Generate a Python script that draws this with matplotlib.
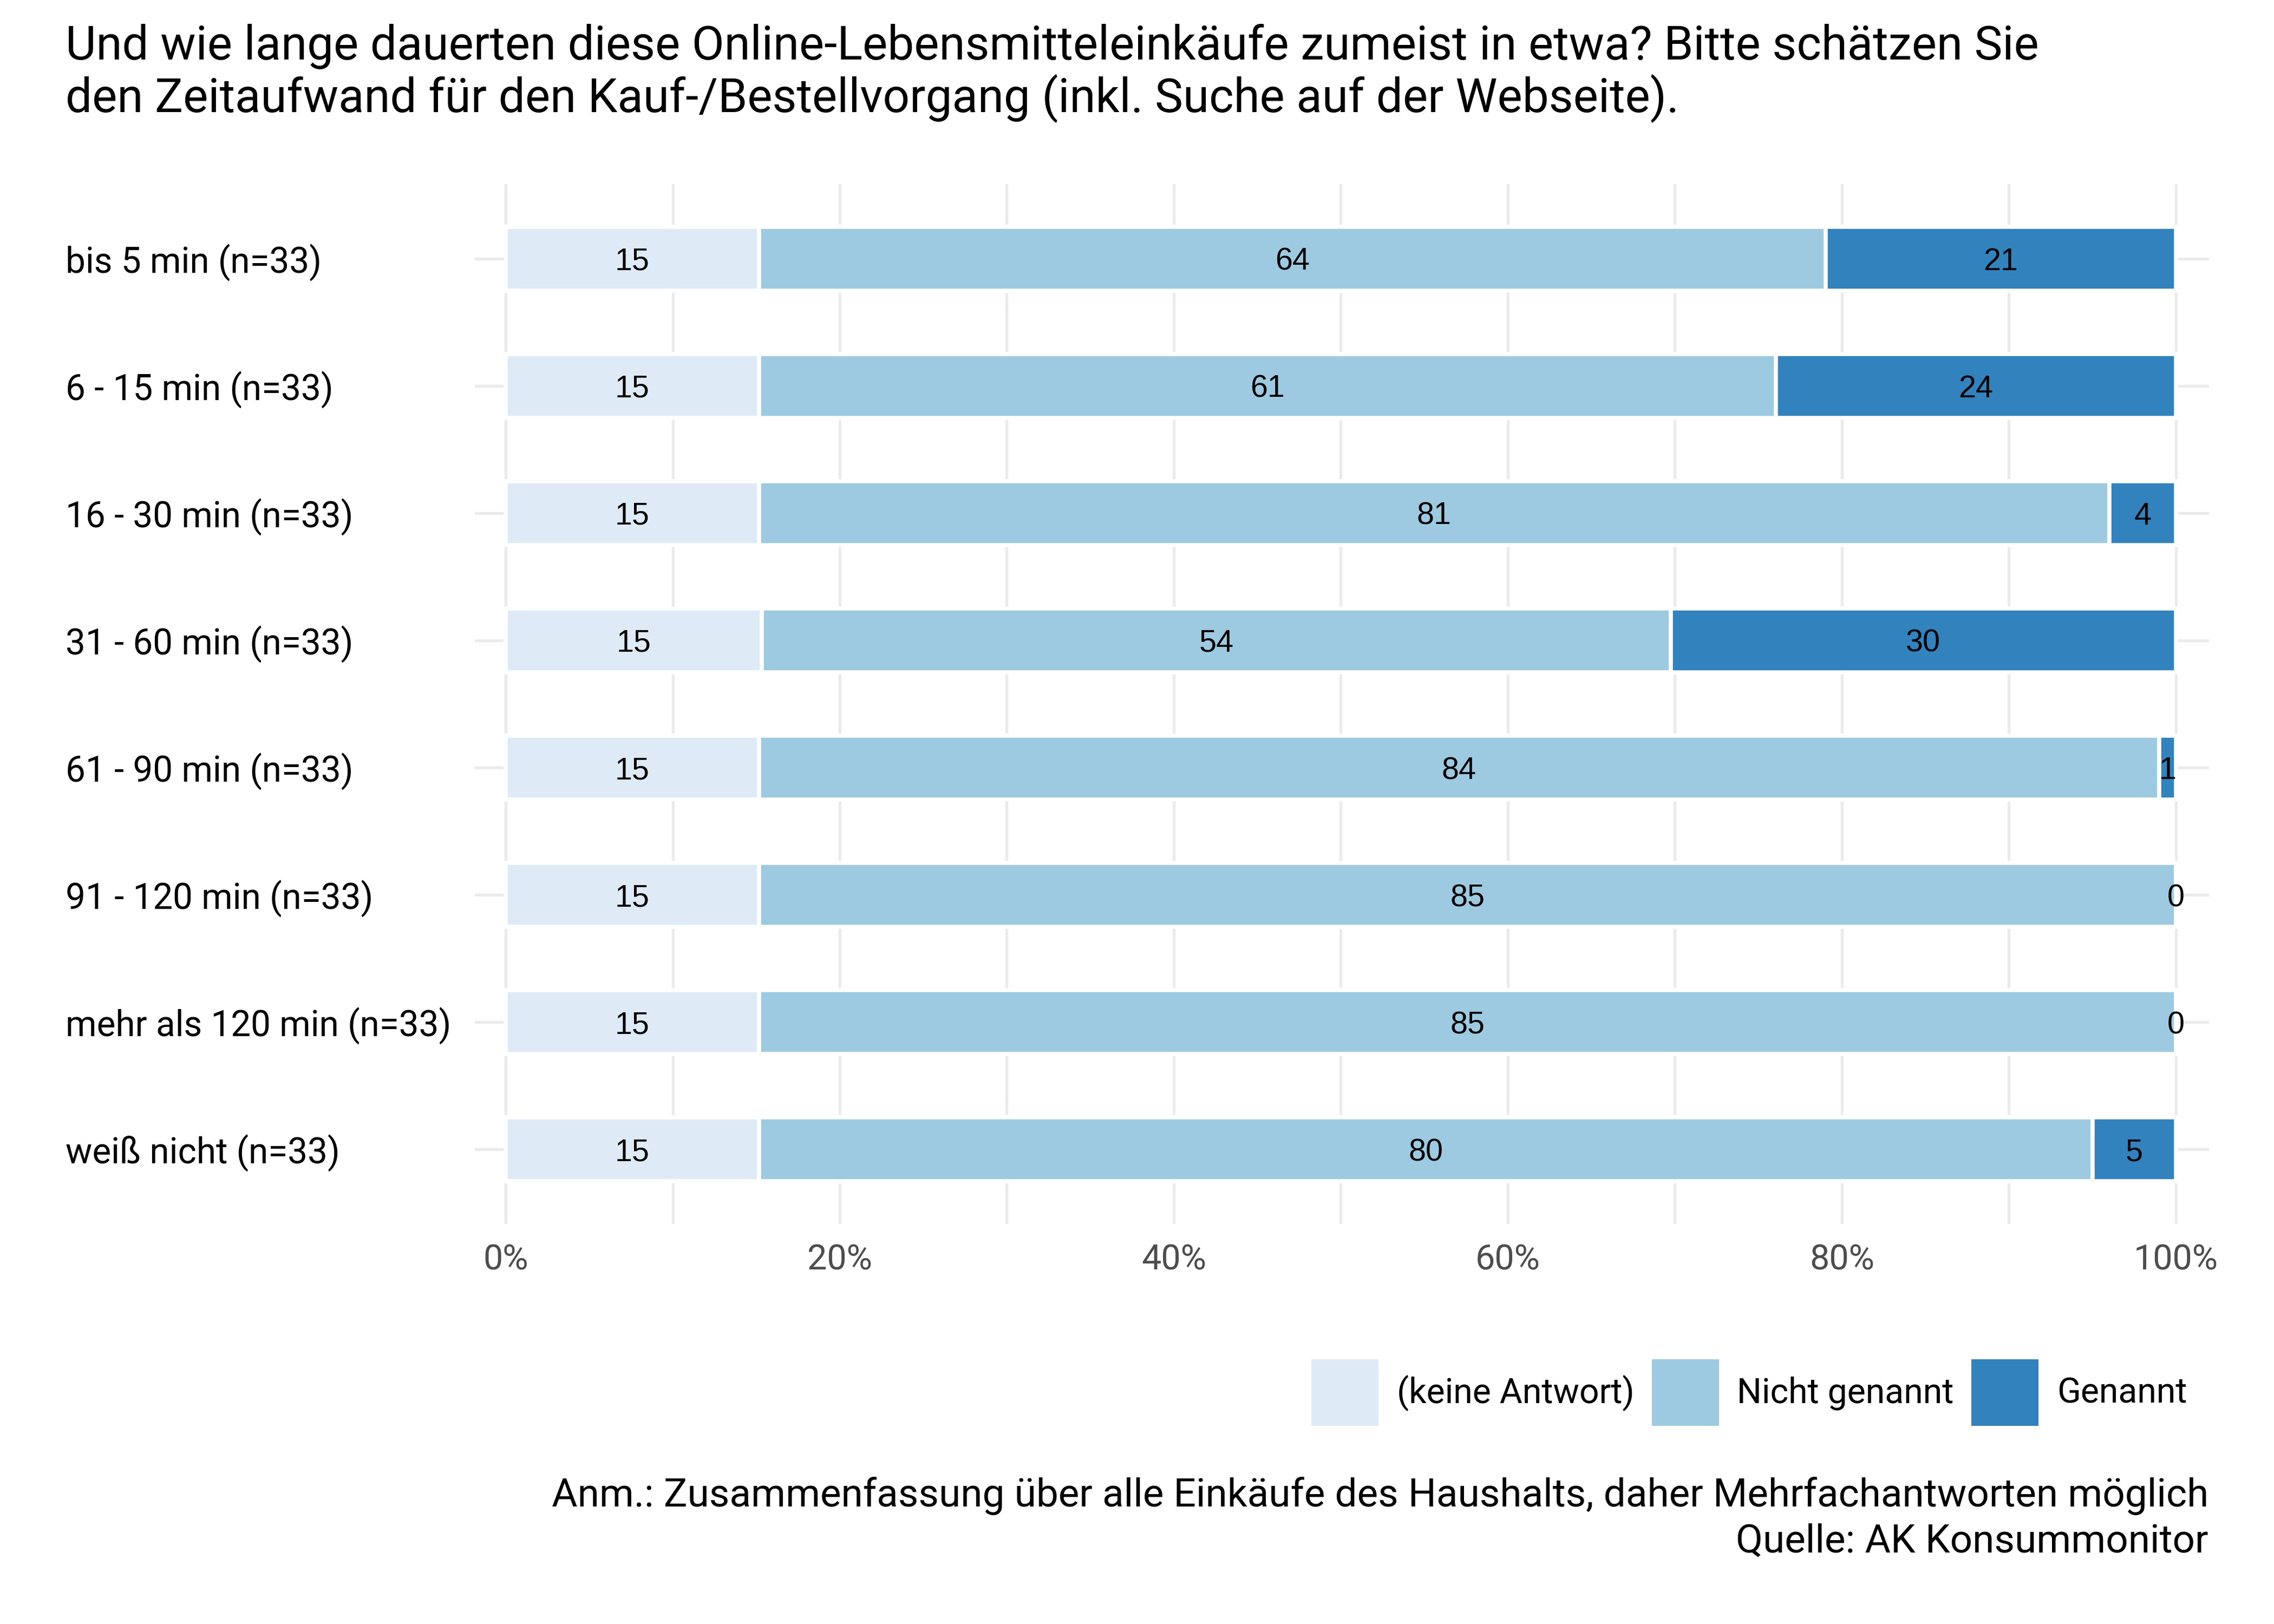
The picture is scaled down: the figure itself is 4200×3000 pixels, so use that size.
import matplotlib.pyplot as plt
import numpy as np
from matplotlib.patches import Patch

# Data (percent)
categories = [
    "bis 5 min (n=33)",
    "6 - 15 min (n=33)",
    "16 - 30 min (n=33)",
    "31 - 60 min (n=33)",
    "61 - 90 min (n=33)",
    "91 - 120 min (n=33)",
    "mehr als 120 min (n=33)",
    "weiß nicht (n=33)",
]
keine_antwort = [15.2, 15.2, 15.2, 15.2, 15.2, 15.2, 15.2, 15.2]
nicht_genannt = [64, 61, 81, 54, 84, 85, 85, 80]
genannt = [21, 24, 4, 30, 1, 0, 0, 5]

series_names = ["(keine Antwort)", "Nicht genannt", "Genannt"]
colors = ["#DEEBF7", "#9ECAE1", "#3182BD"]
x_ticks = [0, 20, 40, 60, 80, 100]

title = ("Und wie lange dauerten diese Online-Lebensmitteleinkäufe zumeist in etwa? Bitte schätzen Sie\n"
         "den Zeitaufwand für den Kauf-/Bestellvorgang (inkl. Suche auf der Webseite).")
caption = ("Anm.: Zusammenfassung über alle Einkäufe des Haushalts, daher Mehrfachantworten möglich\n"
           "Quelle: AK Konsummonitor")

plt.rcParams['font.family'] = ['Roboto', 'DejaVu Sans']

values = np.array([keine_antwort, nicht_genannt, genannt], dtype=float)
shares = values / values.sum(axis=0)
y = np.arange(len(categories))

fig = plt.figure(figsize=(14, 10), dpi=300)
ax = fig.add_axes([0.2088, 0.2463, 0.9714 - 0.2088, 0.8867 - 0.2463])

# stacked horizontal bars
left = np.zeros(len(categories))
for i, name in enumerate(series_names):
    ax.barh(y, shares[i], left=left, height=0.5, color=colors[i],
            edgecolor='white', linewidth=1.8, label=name, zorder=2)
    for j in range(len(categories)):
        ax.text(left[j] + shares[i][j] / 2, y[j], f"{values[i][j]:.0f}",
                ha='center', va='center_baseline', fontsize=13.8,
                family='Liberation Sans', color='black', zorder=3)
    left += shares[i]

# axes styling (minimal theme)
ax.set_xlim(-0.0185, 1.0198)
ax.set_ylim(len(categories) - 1 + 0.587, -0.587)
ax.set_xticks([t / 100 for t in x_ticks])
ax.set_xticklabels([f"{t}%" for t in x_ticks])
ax.set_xticks(np.arange(0.1, 1.0, 0.2), minor=True)
ax.set_yticks(y)
ax.set_yticklabels(categories, ha='left')
ax.tick_params(axis='x', which='both', length=0, pad=8.5, labelsize=15.5, labelcolor='#4D4D4D')
ax.tick_params(axis='y', length=0, pad=181.4, labelsize=15.75, labelcolor='black')
ax.grid(which='both', axis='x', color='#EBEBEB', linewidth=1.3)
ax.grid(axis='y', color='#EBEBEB', linewidth=1.3)
ax.set_axisbelow(True)
for s in ax.spines.values():
    s.set_visible(False)

# title
fig.text(0.0288, 0.9853, title, ha='left', va='top', fontsize=20.9, linespacing=1.13)

# legend (square keys)
handles = [Patch(facecolor=c, edgecolor='none', label=n) for c, n in zip(colors, series_names)]
fig.legend(handles=handles, loc='center left', bbox_to_anchor=(2422 / 4200, 0.1425),
           ncol=3, frameon=False, fontsize=15.45, borderpad=0, borderaxespad=0,
           handlelength=1.93, handleheight=2.586, handletextpad=0.52,
           columnspacing=0.5)

# caption
fig.text(0.9712, 0.039, caption, ha='right', va='bottom', fontsize=17.5, linespacing=1.27)

fig.savefig('out.png', dpi=300)
